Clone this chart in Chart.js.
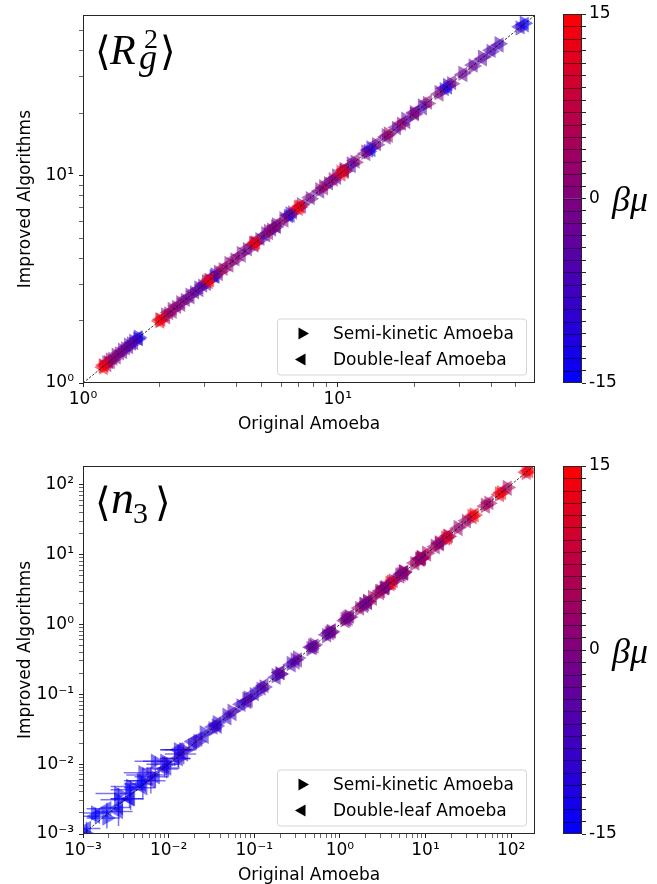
<!DOCTYPE html>
<html>
<head>
<meta charset="utf-8">
<script src="https://cdn.jsdelivr.net/npm/chart.js@4.4.1/dist/chart.umd.min.js"></script>
<style>
  html, body { margin: 0; padding: 0; background: #fff; overflow: hidden; }
  #fig { position: relative; width: 657px; height: 884px; overflow: hidden; }
  .box { position: absolute; }
</style>
</head>
<body>
<div id="fig">
  <div class="box" style="left:0;top:0;width:545px;height:442px"><canvas id="rgChart"></canvas></div>
  <div class="box" style="left:545px;top:0;width:112px;height:442px"><canvas id="rgBar"></canvas></div>
  <div class="box" style="left:0;top:442px;width:545px;height:451px"><canvas id="n3Chart"></canvas></div>
  <div class="box" style="left:545px;top:442px;width:112px;height:451px"><canvas id="n3Bar"></canvas></div>
</div>
<script>
// colorbar levels and labelled ticks
const cbarBounds = [-15, -14, -13, -12, -11, -10, -9, -8, -7, -6, -5, -4, -3, -2, -1, 0,
                    1, 2, 3, 4, 5, 6, 7, 8, 9, 10, 11, 12, 13, 14, 15];
const cbarTickLabels = [-15, 0, 15];

// <R_g^2> : beta*mu of each point in a group, then original (x) vs improved (y), one row per group
const rgBetaMu = [-15, -10, -7, -6, -5, -4, -3, -2, -1, 0, 1, 2, 3, 10, 15];
const rgOrig = [
  [1.65, 1.64, 1.58, 1.55, 1.51, 1.47, 1.43, 1.39, 1.35, 1.31, 1.28, 1.26, 1.24, 1.21, 1.20],
  [3.30, 3.27, 3.05, 2.95, 2.85, 2.74, 2.63, 2.52, 2.42, 2.33, 2.24, 2.17, 2.11, 2.02, 2.00],
  [6.50, 6.40, 5.75, 5.50, 5.22, 4.95, 4.68, 4.42, 4.18, 3.95, 3.74, 3.55, 3.40, 3.14, 3.10],
  [13.5, 13.2, 11.3, 10.6, 9.90, 9.20, 8.50, 7.80, 7.20, 6.65, 6.15, 5.70, 5.35, 4.76, 4.70],
  [27.0, 26.2, 21.5, 20.0, 18.5, 17.0, 15.5, 14.2, 12.9, 11.7, 10.6, 9.60, 8.80, 7.10, 7.00],
  [54.0, 52.0, 43.0, 40.0, 37.0, 34.0, 31.0, 28.0, 25.0, 22.5, 20.0, 17.8, 15.8, 10.6, 10.3]
];
const rgSemi = [
  [1.66, 1.63, 1.59, 1.54, 1.52, 1.46, 1.44, 1.38, 1.36, 1.30, 1.29, 1.25, 1.25, 1.20, 1.21],
  [3.32, 3.25, 3.07, 2.93, 2.87, 2.72, 2.65, 2.50, 2.44, 2.31, 2.26, 2.15, 2.13, 2.01, 2.01],
  [6.54, 6.36, 5.79, 5.46, 5.25, 4.91, 4.71, 4.39, 4.21, 3.92, 3.77, 3.52, 3.42, 3.12, 3.11],
  [13.6, 13.1, 11.4, 10.5, 9.96, 9.14, 8.56, 7.75, 7.25, 6.61, 6.19, 5.66, 5.38, 4.74, 4.72],
  [27.2, 26.0, 21.7, 19.8, 18.7, 16.9, 15.6, 14.1, 13.0, 11.6, 10.7, 9.55, 8.85, 7.07, 7.03],
  [54.4, 51.6, 43.3, 39.7, 37.3, 33.8, 31.2, 27.8, 25.2, 22.3, 20.1, 17.7, 15.9, 10.5, 10.4]
];
const rgLeaf = [
  [1.64, 1.65, 1.57, 1.56, 1.50, 1.48, 1.42, 1.40, 1.34, 1.32, 1.27, 1.27, 1.23, 1.22, 1.19],
  [3.28, 3.29, 3.03, 2.97, 2.83, 2.76, 2.61, 2.54, 2.40, 2.35, 2.22, 2.19, 2.09, 2.03, 1.99],
  [6.46, 6.44, 5.71, 5.54, 5.19, 4.99, 4.65, 4.45, 4.15, 3.98, 3.71, 3.58, 3.38, 3.16, 3.09],
  [13.4, 13.3, 11.2, 10.7, 9.84, 9.26, 8.44, 7.85, 7.15, 6.69, 6.11, 5.74, 5.32, 4.78, 4.68],
  [26.8, 26.4, 21.3, 20.2, 18.3, 17.1, 15.4, 14.3, 12.8, 11.8, 10.5, 9.65, 8.75, 7.13, 6.97],
  [53.6, 52.4, 42.7, 40.3, 36.7, 34.2, 30.8, 28.2, 24.8, 22.7, 19.9, 17.9, 15.7, 10.7, 10.2]
];
const rgLimits = [1, 59.5];
const rgMajorTicks = [1, 10];

// <n_3>
const n3BetaMu = [-15, -13, -11, -9, -7, -5, -3, -1, 0, 1, 2, 3, 4, 10, 15];
const n3Orig = [
  [0.0011, 0.0026, 0.0062, 0.015, 0.036, 0.085, 0.20, 0.48, 0.75, 1.15, 1.70, 2.40, 3.00, 3.85, 4.00],
  [0.0014, 0.0036, 0.0090, 0.022, 0.055, 0.13, 0.32, 0.80, 1.25, 1.95, 2.90, 4.20, 5.60, 8.60, 9.00],
  [0.0019, 0.0050, 0.013, 0.033, 0.082, 0.20, 0.50, 1.30, 2.10, 3.30, 5.00, 7.50, 10.3, 17.2, 18.0],
  [0.0026, 0.0070, 0.019, 0.048, 0.12, 0.30, 0.78, 2.10, 3.40, 5.50, 8.60, 13.0, 18.5, 35.0, 37.0],
  [0.0035, 0.0095, 0.026, 0.070, 0.18, 0.46, 1.20, 3.30, 5.50, 9.00, 14.5, 30.0, 50.0, 73.0, 77.0],
  [0.0048, 0.013, 0.037, 0.10, 0.27, 0.70, 1.90, 5.20, 8.80, 14.5, 24.0, 55.0, 90.0, 150, 160]
];
const n3Semi = [
  [0.0010, 0.0038, 0.0070, 0.016, 0.035, 0.088, 0.195, 0.49, 0.74, 1.17, 1.68, 2.43, 2.97, 3.88, 4.03],
  [0.0020, 0.0048, 0.0110, 0.021, 0.057, 0.127, 0.33, 0.79, 1.27, 1.93, 2.94, 4.16, 5.65, 8.55, 9.05],
  [0.0017, 0.0075, 0.016, 0.032, 0.085, 0.195, 0.51, 1.28, 2.13, 3.26, 5.05, 7.45, 10.4, 17.1, 18.1],
  [0.0031, 0.0110, 0.018, 0.050, 0.118, 0.31, 0.77, 2.13, 3.36, 5.55, 8.55, 13.1, 18.3, 35.3, 36.8],
  [0.0043, 0.0100, 0.028, 0.068, 0.185, 0.45, 1.22, 3.26, 5.55, 8.90, 14.7, 29.6, 50.6, 73.5, 76.5],
  [0.0058, 0.0120, 0.039, 0.098, 0.275, 0.69, 1.93, 5.15, 8.90, 14.3, 24.3, 54.3, 91.0, 149, 161]
];
const n3Leaf = [
  [0.0012, 0.0021, 0.0058, 0.014, 0.037, 0.082, 0.205, 0.47, 0.76, 1.13, 1.72, 2.37, 3.03, 3.82, 3.97],
  [0.0018, 0.0032, 0.0085, 0.023, 0.053, 0.134, 0.31, 0.81, 1.23, 1.97, 2.86, 4.24, 5.55, 8.65, 8.95],
  [0.0023, 0.0046, 0.012, 0.034, 0.079, 0.205, 0.49, 1.32, 2.07, 3.34, 4.95, 7.55, 10.2, 17.3, 17.9],
  [0.0024, 0.0066, 0.021, 0.046, 0.123, 0.29, 0.79, 2.07, 3.44, 5.45, 8.65, 12.9, 18.7, 34.7, 37.2],
  [0.0032, 0.0088, 0.025, 0.072, 0.175, 0.47, 1.18, 3.34, 5.45, 9.10, 14.3, 30.4, 49.4, 72.5, 77.5],
  [0.0052, 0.0160, 0.035, 0.103, 0.265, 0.71, 1.87, 5.25, 8.70, 14.7, 23.7, 55.7, 89.0, 151, 159]
];
const n3XErr = [
  [0.0005, 0.0012, 0.003, 0.006, 0, 0, 0, 0, 0, 0, 0, 0, 0, 0, 0],
  [0.0006, 0.0015, 0.004, 0, 0, 0, 0, 0, 0, 0, 0, 0, 0, 0, 0],
  [0.0008, 0.0020, 0.005, 0, 0, 0, 0, 0, 0, 0, 0, 0, 0, 0, 0],
  [0.0010, 0.0030, 0, 0, 0, 0, 0, 0, 0, 0, 0, 0, 0, 0, 0],
  [0.0014, 0.0040, 0, 0, 0, 0, 0, 0, 0, 0, 0, 0, 0, 0, 0],
  [0.0018, 0.0050, 0, 0, 0, 0, 0, 0, 0, 0, 0, 0, 0, 0, 0]
];
const n3YErr = [
  [0.0003, 0.0008, 0.002, 0.004, 0, 0, 0, 0, 0, 0, 0, 0, 0, 0, 0],
  [0.0004, 0.0010, 0.002, 0, 0, 0, 0, 0, 0, 0, 0, 0, 0, 0, 0],
  [0.0005, 0.0015, 0.003, 0, 0, 0, 0, 0, 0, 0, 0, 0, 0, 0, 0],
  [0.0006, 0.0020, 0, 0, 0, 0, 0, 0, 0, 0, 0, 0, 0, 0, 0],
  [0.0008, 0.0025, 0, 0, 0, 0, 0, 0, 0, 0, 0, 0, 0, 0, 0],
  [0.0010, 0.0030, 0, 0, 0, 0, 0, 0, 0, 0, 0, 0, 0, 0, 0]
];
const n3XLimits = [0.001, 190];
const n3YLimits = [0.001, 185];
const n3MajorTicks = [0.001, 0.01, 0.1, 1, 10, 100];

const seriesLabels = ['Semi-kinetic Amoeba', 'Double-leaf Amoeba'];

Chart.defaults.font.family = '"DejaVu Sans", sans-serif';
Chart.defaults.color = '#000';

// blue -> red map, 30 discrete levels
function cmap(b, a) {
  const k = Math.min(29, Math.max(0, Math.floor(b + 15)));
  const t = (k + 0.5) / 30;
  return `rgba(${Math.round(255 * t)},0,${Math.round(255 * (1 - t))},${a})`;
}

const SUP = { '-': '\u207B', '0': '\u2070', '1': '\u00B9', '2': '\u00B2', '3': '\u00B3' };
const sup = (n) => String(n).split('').map(c => SUP[c]).join('');

function logTicks(majors, lo, hi) {
  const out = [];
  majors.forEach(m => {
    out.push({ value: m, major: true });
    for (let k = 2; k <= 9; k++) out.push({ value: m * k, major: false });
  });
  return out.filter(t => t.value >= lo * 0.999 && t.value <= hi);
}

const frame = {
  id: 'frame',
  afterDatasetsDraw(chart) {
    const { ctx, chartArea: a } = chart;
    ctx.save();
    ctx.strokeStyle = '#262626';
    ctx.lineWidth = 1;
    ctx.strokeRect(Math.round(a.left) + 0.5, Math.round(a.top) + 0.5,
                   Math.round(a.right - a.left) - 1, Math.round(a.bottom - a.top) - 1);
    ctx.restore();
  }
};

const errorBars = {
  id: 'errorBars',
  beforeDatasetsDraw(chart) {
    const { ctx, chartArea: a, scales: { x, y } } = chart;
    ctx.save();
    ctx.beginPath(); ctx.rect(a.left, a.top, a.right - a.left, a.bottom - a.top); ctx.clip();
    ctx.lineWidth = 1.5;
    chart.data.datasets.forEach(ds => {
      if (!ds.xErr) return;
      ds.data.forEach((p, i) => {
        const ex = ds.xErr[i], ey = ds.yErr[i];
        if (!ex && !ey) return;
        ctx.strokeStyle = ds.pointBackgroundColor[i];
        const px = x.getPixelForValue(p.x), py = y.getPixelForValue(p.y);
        ctx.beginPath();
        if (ex) { ctx.moveTo(x.getPixelForValue(p.x - ex), py); ctx.lineTo(x.getPixelForValue(p.x + ex), py); }
        if (ey) { ctx.moveTo(px, y.getPixelForValue(p.y - ey)); ctx.lineTo(px, y.getPixelForValue(p.y + ey)); }
        ctx.stroke();
      });
    });
    ctx.restore();
  }
};

const boxLegend = {
  id: 'boxLegend',
  afterDraw(chart) {
    const { ctx, chartArea: a } = chart;
    const w = 249, h = 56;
    const x0 = a.right - 9 - w, y0 = a.bottom - 8.5 - h;
    ctx.save();
    ctx.beginPath();
    ctx.roundRect(x0 + 0.5, y0 + 0.5, w, h, 3);
    ctx.fillStyle = 'rgba(255,255,255,0.8)';
    ctx.fill();
    ctx.strokeStyle = '#d6d6d6';
    ctx.lineWidth = 1;
    ctx.stroke();
    const sets = chart.data.datasets.filter(d => d.pointRotation !== undefined);
    sets.forEach((ds, i) => {
      const cy = y0 + 15 + i * 26;
      ctx.fillStyle = '#000';
      Chart.helpers.drawPoint(ctx, { pointStyle: 'triangle', radius: 7, rotation: ds.pointRotation, borderWidth: 0 }, x0 + 25, cy);
      ctx.font = '17px "DejaVu Sans"';
      ctx.textBaseline = 'middle';
      ctx.fillStyle = '#000';
      ctx.fillText(ds.label, x0 + 56, cy + 1);
    });
    ctx.restore();
  }
};

const mathLabel = {
  id: 'mathLabel',
  afterDraw(chart) {
    const parts = chart.options.plugins.mathLabel.parts;
    const { ctx, chartArea: a } = chart;
    ctx.save();
    ctx.fillStyle = '#000';
    ctx.textBaseline = 'alphabetic';
    parts.forEach(p => {
      ctx.font = p.font;
      ctx.fillText(p.text, a.left + p.x, a.top + p.y);
    });
    ctx.restore();
  }
};

function scatterSet(label, rot, p, ys, order) {
  const xs = p.orig.flat(), yv = ys.flat();
  const colors = p.orig.flatMap(g => g.map((_, j) => cmap(p.betaMu[j], 0.55)));
  return {
    label, type: 'scatter',
    data: xs.map((x, i) => ({ x, y: yv[i] })),
    pointStyle: 'triangle', pointRotation: rot,
    pointRadius: 9, pointHoverRadius: 9,
    pointBackgroundColor: colors, pointBorderWidth: 0,
    clip: 0, order,
    xErr: p.xErr ? p.xErr.flat() : null,
    yErr: p.yErr ? p.yErr.flat() : null
  };
}

function makePanel(id, p) {
  const xTicks = logTicks(p.majors, p.xLim[0], p.xLim[1]);
  const yTicks = logTicks(p.majors, p.yLim[0], p.yLim[1]);
  const tickLabel = (v, i, ticks) => ticks[i].major ? '10' + sup(Math.round(Math.log10(v))) : '';
  const grid = { drawOnChartArea: false, tickLength: 4, tickColor: '#262626',
                 tickWidth: c => (c.tick && c.tick.major ? 1 : 0.7) };
  new Chart(document.getElementById(id), {
    type: 'scatter',
    data: {
      datasets: [
        { type: 'line', label: 'diag', data: p.diag.map(v => ({ x: v, y: v })),
          borderColor: '#000', borderWidth: 0.8, borderDash: [2.5, 1.5], pointRadius: 0, order: 0 },
        scatterSet(seriesLabels[0], 90, p, p.semi, 2),
        scatterSet(seriesLabels[1], -90, p, p.leaf, 1)
      ]
    },
    options: {
      animation: false, responsive: true, maintainAspectRatio: false,
      layout: { padding: { top: p.padTop, right: 10, left: 0, bottom: 0 } },
      plugins: { legend: { display: false }, tooltip: { enabled: false }, mathLabel: { parts: p.label } },
      scales: {
        x: {
          type: 'logarithmic', min: p.xLim[0], max: p.xLim[1],
          afterBuildTicks: s => { s.ticks = xTicks.map(t => ({ ...t })); },
          afterFit: s => { s.height = 59; },
          ticks: { autoSkip: false, maxRotation: 0, padding: 2, font: { size: 17 }, callback: tickLabel },
          grid, border: { display: false },
          title: { display: true, text: 'Original Amoeba', font: { size: 17 }, padding: { top: 0, bottom: 7 } }
        },
        y: {
          type: 'logarithmic', min: p.yLim[0], max: p.yLim[1],
          afterBuildTicks: s => { s.ticks = yTicks.map(t => ({ ...t })); },
          afterFit: s => { s.width = 83; },
          ticks: { autoSkip: false, padding: 5, font: { size: 17 }, callback: tickLabel },
          grid, border: { display: false },
          title: { display: true, text: 'Improved Algorithms', font: { size: 17 }, padding: { top: 15, bottom: 0 } }
        }
      }
    },
    plugins: [errorBars, frame, boxLegend, mathLabel]
  });
}

// colorbar: dark edges between levels, and the beta*mu label
const cbarDecor = {
  id: 'cbarDecor',
  afterDatasetsDraw(chart) {
    const { ctx, chartArea: a, scales: { y } } = chart;
    ctx.save();
    ctx.strokeStyle = 'rgba(0,0,0,0.5)';
    ctx.lineWidth = 1;
    cbarBounds.slice(1, -1).forEach(v => {
      const py = Math.round(y.getPixelForValue(v)) + 0.5;
      ctx.beginPath(); ctx.moveTo(a.left, py); ctx.lineTo(a.right, py); ctx.stroke();
    });
    ctx.fillStyle = '#000';
    ctx.font = 'italic 36px "Liberation Serif"';
    ctx.textBaseline = 'alphabetic';
    ctx.fillText('\u03B2\u03BC', a.right + 30, a.top + 197);
    ctx.restore();
  }
};

function makeColorbar(id, padTop) {
  const sets = cbarBounds.slice(0, -1).map((lo, i) => ({
    data: [[lo, cbarBounds[i + 1]]],
    backgroundColor: cmap((lo + cbarBounds[i + 1]) / 2, 1),
    borderWidth: 0, grouped: false, barPercentage: 1, categoryPercentage: 1, inflateAmount: 0.6
  }));
  new Chart(document.getElementById(id), {
    type: 'bar',
    data: { labels: [''], datasets: sets },
    options: {
      animation: false, responsive: true, maintainAspectRatio: false,
      layout: { padding: { left: 18, top: padTop, bottom: 59, right: 0 } },
      plugins: { legend: { display: false }, tooltip: { enabled: false } },
      scales: {
        x: { display: false },
        y: {
          position: 'right', min: -15, max: 15,
          afterBuildTicks: s => { s.ticks = cbarBounds.map(v => ({ value: v })); },
          afterFit: s => { s.width = 75; },
          ticks: { autoSkip: false, padding: 3, font: { size: 17 },
                   callback: v => cbarTickLabels.includes(v) ? String(v) : '' },
          grid: { drawOnChartArea: false, tickLength: 4, tickColor: '#262626' },
          border: { display: false }
        }
      }
    },
    plugins: [cbarDecor, frame]
  });
}

makePanel('rgChart', {
  betaMu: rgBetaMu, orig: rgOrig, semi: rgSemi, leaf: rgLeaf, xErr: null, yErr: null,
  xLim: rgLimits, yLim: rgLimits, majors: rgMajorTicks, diag: rgLimits, padTop: 14,
  label: [
    { text: '\u27E8', font: '40px "DejaVu Sans"', x: 12, y: 50 },
    { text: 'R', font: 'italic 42px "Liberation Serif"', x: 27, y: 49 },
    { text: '2', font: '28px "Liberation Serif"', x: 61, y: 33 },
    { text: 'g', font: 'italic 36px "Liberation Serif"', x: 56, y: 54 },
    { text: '\u27E9', font: '40px "DejaVu Sans"', x: 77, y: 50 }
  ]
});
makeColorbar('rgBar', 14);

makePanel('n3Chart', {
  betaMu: n3BetaMu, orig: n3Orig, semi: n3Semi, leaf: n3Leaf, xErr: n3XErr, yErr: n3YErr,
  xLim: n3XLimits, yLim: n3YLimits, majors: n3MajorTicks, diag: [0.001, 200], padTop: 24,
  label: [
    { text: '\u27E8', font: '40px "DejaVu Sans"', x: 12, y: 50 },
    { text: 'n', font: 'italic 46px "Liberation Serif"', x: 28, y: 47 },
    { text: '3', font: '30px "Liberation Serif"', x: 50, y: 57 },
    { text: '\u27E9', font: '40px "DejaVu Sans"', x: 72, y: 50 }
  ]
});
makeColorbar('n3Bar', 24);
</script>
</body>
</html>
